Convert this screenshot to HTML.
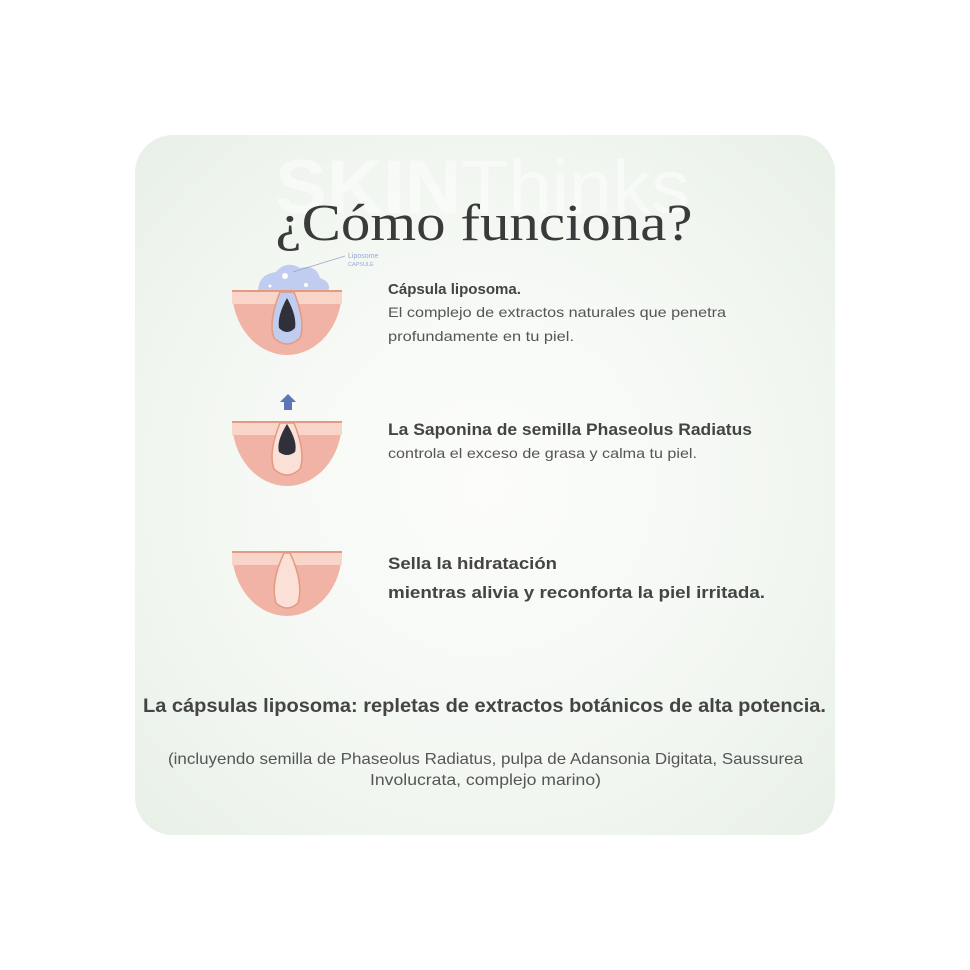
<!DOCTYPE html>
<html><head><meta charset="utf-8"><style>
html,body{margin:0;padding:0;background:#fff;width:970px;height:970px;overflow:hidden}
</style></head><body>
<svg width="970" height="970" viewBox="0 0 970 970" xmlns="http://www.w3.org/2000/svg">
<defs>
<radialGradient id="bg" cx="0.5" cy="0.5" r="0.7">
<stop offset="0" stop-color="#fcfdfb"/>
<stop offset="0.6" stop-color="#f3f7f2"/>
<stop offset="1" stop-color="#e8f0e8"/>
</radialGradient>
</defs>
<rect x="135" y="135" width="700" height="700" rx="38" fill="url(#bg)"/>
<text x="275" y="213" font-family="Liberation Sans, sans-serif" font-size="76" fill="#ffffff" opacity="0.5" textLength="415" lengthAdjust="spacingAndGlyphs"><tspan font-weight="bold">SKIN</tspan>Thinks</text>
<text x="484" y="240" text-anchor="middle" font-family="Liberation Serif, serif" font-size="52" fill="#3a3a3a" textLength="417" lengthAdjust="spacingAndGlyphs">¿Cómo funciona?</text>

<g>
<path d="M258 292 q0-18 18-20 q10-12 24-4 q16-4 20 10 q12 4 8 14 z" fill="#c0cdf0"/>
<circle cx="285" cy="276" r="3" fill="#fff"/><circle cx="306" cy="285" r="2" fill="#fff"/><circle cx="270" cy="286" r="1.5" fill="#fff"/>
<path d="M232 290 h110 a55 65 0 0 1 -110 0 z" fill="#f0b3a5"/>
<rect x="232" y="290" width="110" height="14" fill="#f8d4c9"/>
<line x1="232" y1="291" x2="342" y2="291" stroke="#e39a80" stroke-width="2"/>
<path d="M280 292 q-12 30 -6 46 q13 12 26 0 q6 -16 -6 -46 z" fill="#c0cdf0" stroke="#e39a80" stroke-width="1.5"/>
<path d="M287 298 q-10 18 -8 30 q8 8 16 0 q2 -12 -8 -30 z" fill="#2f3039"/>
<line x1="293" y1="272" x2="345" y2="256" stroke="#9aa6c8" stroke-width="0.8"/>
<text x="348" y="258" font-family="Liberation Sans, sans-serif" font-size="7" fill="#9aa6d6">Liposome</text>
<text x="348" y="266" font-family="Liberation Sans, sans-serif" font-size="5.5" fill="#9aa6d6">CAPSULE</text>
</g>
<g>
<path d="M284 410 v-8 h-4 l8 -8 l8 8 h-4 v8 z" fill="#5d74b8"/>
<path d="M232 421 h110 a55 65 0 0 1 -110 0 z" fill="#f0b3a5"/>
<rect x="232" y="421" width="110" height="14" fill="#f8d4c9"/>
<line x1="232" y1="422" x2="342" y2="422" stroke="#e39a80" stroke-width="2"/>
<path d="M280 423 q-12 30 -6 46 q13 12 26 0 q6 -16 -6 -46 z" fill="#fbe0d8" stroke="#e39a80" stroke-width="1.5"/>
<path d="M287 424 q-11 18 -8 28 q8 6 16 0 q3 -10 -8 -28 z" fill="#2f3039"/>
</g>
<g>
<path d="M232 551 h110 a55 65 0 0 1 -110 0 z" fill="#f0b3a5"/>
<rect x="232" y="551" width="110" height="14" fill="#f8d4c9"/>
<line x1="232" y1="552" x2="342" y2="552" stroke="#e39a80" stroke-width="2"/>
<path d="M284 553 q-14 30 -8 50 q11 10 22 0 q6 -20 -8 -50 z" fill="#fbe0d8" stroke="#e39a80" stroke-width="1.5"/>
</g>

<g font-family="Liberation Sans, sans-serif" fill="#444">
<text x="388" y="294" font-size="15" font-weight="bold" textLength="133" lengthAdjust="spacingAndGlyphs">Cápsula liposoma.</text>
<text x="388" y="317" font-size="14" fill="#555" textLength="338" lengthAdjust="spacingAndGlyphs">El complejo de extractos naturales que penetra</text>
<text x="388" y="341" font-size="14" fill="#555" textLength="186" lengthAdjust="spacingAndGlyphs">profundamente en tu piel.</text>
<text x="388" y="435" font-size="17" font-weight="bold" textLength="364" lengthAdjust="spacingAndGlyphs">La Saponina de semilla Phaseolus Radiatus</text>
<text x="388" y="458" font-size="14" fill="#555" textLength="309" lengthAdjust="spacingAndGlyphs">controla el exceso de grasa y calma tu piel.</text>
<text x="388" y="569" font-size="17" font-weight="bold" textLength="169" lengthAdjust="spacingAndGlyphs">Sella la hidratación</text>
<text x="388" y="598" font-size="17" font-weight="bold" textLength="377" lengthAdjust="spacingAndGlyphs">mientras alivia y reconforta la piel irritada.</text>
<text x="143" y="712" font-size="19" font-weight="bold" textLength="683" lengthAdjust="spacingAndGlyphs">La cápsulas liposoma: repletas de extractos botánicos de alta potencia.</text>
<text x="168" y="764" font-size="16" fill="#555" textLength="635" lengthAdjust="spacingAndGlyphs">(incluyendo semilla de Phaseolus Radiatus, pulpa de Adansonia Digitata, Saussurea</text>
<text x="370" y="785" font-size="16" fill="#555" textLength="231" lengthAdjust="spacingAndGlyphs">Involucrata, complejo marino)</text>
</g>
</svg>
</body></html>
